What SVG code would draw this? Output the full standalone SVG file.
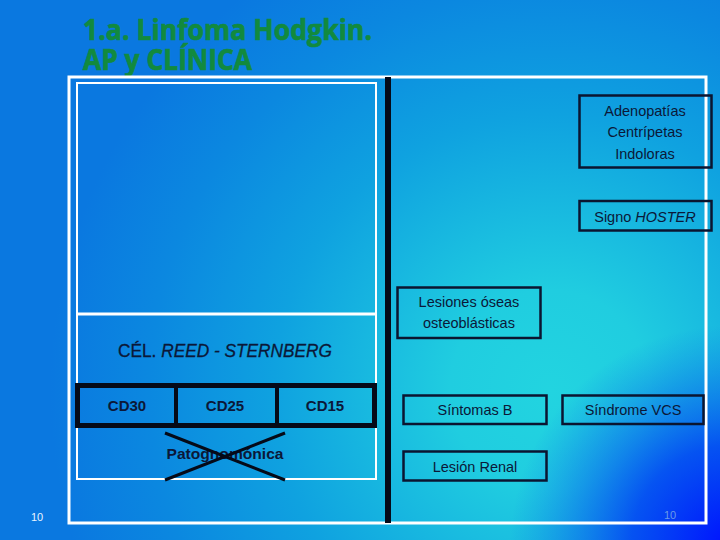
<svg xmlns="http://www.w3.org/2000/svg" width="720" height="540" viewBox="0 0 720 540">
  <defs>
    <radialGradient id="bg" cx="550" cy="390" r="500" gradientUnits="userSpaceOnUse">
      <stop offset="0" stop-color="#22d4e0"/>
      <stop offset="0.2" stop-color="#20cde0"/>
      <stop offset="0.55" stop-color="#0fa2e0"/>
      <stop offset="0.8" stop-color="#0b88e0"/>
      <stop offset="1" stop-color="#0a78e0"/>
    </radialGradient>
    <radialGradient id="br" cx="730" cy="545" r="220" gradientUnits="userSpaceOnUse">
      <stop offset="0" stop-color="#0010ff" stop-opacity="1"/>
      <stop offset="0.45" stop-color="#0038f6" stop-opacity="0.8"/>
      <stop offset="1" stop-color="#0a60ee" stop-opacity="0"/>
    </radialGradient>
  </defs>
  <style>
    .t { font-family: "Liberation Sans", Arial, sans-serif; fill: #0b1838; }
    .box { fill: none; stroke: #0b1530; stroke-width: 2.5; }
    .frame { fill: none; stroke: #ffffff; }
    .cd { font-family: "Liberation Sans", Arial, sans-serif; font-weight: bold; fill: #0b1838; font-size: 15px; }
    .ttl { font-family: "Open Sans", "Liberation Sans", sans-serif; font-weight: 700; font-size: 28px; fill: #128a3e; stroke: #128a3e; stroke-width: 0.7; }
  </style>
  <rect x="0" y="0" width="720" height="540" fill="url(#bg)"/>
  <rect x="0" y="0" width="720" height="540" fill="url(#br)"/>

  <g id="title">
    <text class="ttl" x="83" y="40" textLength="289" lengthAdjust="spacingAndGlyphs">1.a. Linfoma Hodgkin.</text>
    <text class="ttl" x="83" y="70" textLength="169" lengthAdjust="spacingAndGlyphs">AP y CLÍNICA</text>
  </g>

  <g id="frames">
    <rect class="frame" x="69" y="77" width="637" height="446" stroke-width="3"/>
    <rect class="frame" x="77" y="83" width="299" height="396" stroke-width="2"/>
    <line x1="77" y1="314" x2="376" y2="314" stroke="#ffffff" stroke-width="3"/>
  </g>

  <g id="connectors">
    <line x1="388" y1="77" x2="388" y2="523" stroke="#050a18" stroke-width="6"/>
  </g>

  <g id="reed-sternberg">
    <text class="t" x="225" y="357" font-size="18.5" text-anchor="middle" textLength="214" lengthAdjust="spacingAndGlyphs" stroke="#0b1838" stroke-width="0.3">CÉL. <tspan font-style="italic">REED - STERNBERG</tspan></text>
  </g>

  <g id="cd-markers">
    <rect x="77.5" y="385.5" width="297" height="40" fill="none" stroke="#050a18" stroke-width="5"/>
    <line x1="176" y1="385" x2="176" y2="426" stroke="#050a18" stroke-width="4"/>
    <line x1="277" y1="385" x2="277" y2="426" stroke="#050a18" stroke-width="4"/>
    <text class="cd" x="127" y="411" text-anchor="middle">CD30</text>
    <text class="cd" x="225" y="411" text-anchor="middle">CD25</text>
    <text class="cd" x="325" y="411" text-anchor="middle">CD15</text>
  </g>

  <g id="patognomonica">
    <text class="cd" x="225" y="459" text-anchor="middle" textLength="117" lengthAdjust="spacingAndGlyphs">Patognomónica</text>
    <line x1="165" y1="433" x2="285" y2="480" stroke="#050a18" stroke-width="3"/>
    <line x1="285" y1="433" x2="165" y2="480" stroke="#050a18" stroke-width="3"/>
  </g>

  <g id="adenopatias">
    <rect class="box" x="579.5" y="95.5" width="132" height="72"/>
    <text class="t" x="645" y="116" font-size="14.5" text-anchor="middle">Adenopatías</text>
    <text class="t" x="645" y="137" font-size="14.5" text-anchor="middle">Centrípetas</text>
    <text class="t" x="645" y="159" font-size="14.5" text-anchor="middle">Indoloras</text>
  </g>

  <g id="hoster">
    <rect class="box" x="579.5" y="201" width="132" height="29.5"/>
    <text class="t" x="645" y="222" font-size="14.5" text-anchor="middle">Signo <tspan font-style="italic">HOSTER</tspan></text>
  </g>

  <g id="lesiones-oseas">
    <rect class="box" x="397.5" y="287.5" width="143" height="50.5"/>
    <text class="t" x="469" y="307" font-size="14.5" text-anchor="middle">Lesiones óseas</text>
    <text class="t" x="469" y="328" font-size="14.5" text-anchor="middle">osteoblásticas</text>
  </g>

  <g id="sintomas-b">
    <rect class="box" x="403.5" y="395.5" width="143" height="28.5"/>
    <text class="t" x="475" y="415" font-size="14.5" text-anchor="middle">Síntomas B</text>
  </g>

  <g id="sindrome-vcs">
    <rect class="box" x="562.5" y="395.5" width="141" height="28.5"/>
    <text class="t" x="633" y="415" font-size="14.5" text-anchor="middle">Síndrome VCS</text>
  </g>

  <g id="lesion-renal">
    <rect class="box" x="403.5" y="451.5" width="143" height="29"/>
    <text class="t" x="475" y="472" font-size="14.5" text-anchor="middle">Lesión Renal</text>
  </g>

  <g id="page-numbers">
    <text x="37" y="521" font-family="Liberation Sans, Arial, sans-serif" font-size="11" fill="#e8f4ff" text-anchor="middle">10</text>
    <text x="670" y="519" font-family="Liberation Sans, Arial, sans-serif" font-size="11" fill="#6a9ae8" text-anchor="middle">10</text>
  </g>
</svg>
